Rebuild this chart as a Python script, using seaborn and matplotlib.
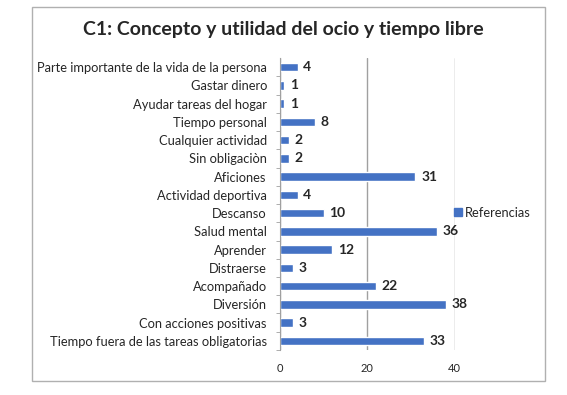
import numpy as np
import pandas as pd
import matplotlib.pyplot as plt
import seaborn as sns
from matplotlib.patches import Rectangle
from matplotlib.lines import Line2D

# datos (de arriba hacia abajo)
categorias = [
    "Parte importante de la vida de la persona",
    "Gastar dinero",
    "Ayudar tareas del hogar",
    "Tiempo personal",
    "Cualquier actividad",
    "Sin obligaciòn",
    "Aficiones",
    "Actividad deportiva",
    "Descanso",
    "Salud mental",
    "Aprender",
    "Distraerse",
    "Acompañado",
    "Diversión",
    "Con acciones positivas",
    "Tiempo fuera de las tareas obligatorias",
]
referencias = [4, 1, 1, 8, 2, 2, 31, 4, 10, 36, 12, 3, 22, 38, 3, 33]
ticks_x = [0, 20, 40]

df = pd.DataFrame({"Categoria": categorias, "Referencias": referencias})

sns.set_style("white")
plt.rcParams['font.family'] = ['Lato', 'DejaVu Sans']

azul = "#4472C4"
fig = plt.figure(figsize=(5.67, 3.95), dpi=100)
ax = fig.add_axes([0.494, 0.114, 0.308, 0.739])

sns.barplot(data=df, y="Categoria", x="Referencias", orient="h",
            color=azul, width=0.47, ax=ax, saturation=1)

ax.set_xlim(0, 40)
ax.set_xticks(ticks_x)
ax.set_ylim(len(categorias) - 0.5, -0.5)
ax.set_xlabel("")
ax.set_ylabel("")
ax.xaxis.grid(True, color="#a0a0a0", linewidth=1.0)
ax.set_axisbelow(True)
for s in ["top", "right", "bottom"]:
    ax.spines[s].set_visible(False)
ax.spines["left"].set_color("#a0a0a0")
ax.tick_params(axis="y", labelsize=9.3, pad=6)
ax.tick_params(axis="x", bottom=False, labelsize=8, pad=6)
ax.set_yticks(np.arange(len(categorias)) + 0.5, minor=True)
ax.tick_params(axis="y", which="minor", left=True, length=3, color="#a0a0a0")
ax.tick_params(axis="y", which="major", left=False)

for i, v in enumerate(referencias):
    ax.text(v + 1.3, i, str(v), va="center", ha="left", fontsize=10, fontweight="bold")

fig.text(0.5, 0.925, "C1: Concepto y utilidad del ocio y tiempo libre",
         ha="center", va="center", fontsize=14, fontweight="bold")

h = Line2D([], [], marker="s", color=azul, linestyle="None", markersize=5.5)
fig.legend([h], ["Referencias"], loc="center left", bbox_to_anchor=(0.775, 0.462),
           frameon=False, fontsize=9.3, handletextpad=0.1, handlelength=1.0)

fig.patches.append(Rectangle((32 / 567, 1 - 381 / 395), (545 - 32) / 567, (381 - 7) / 395,
                             transform=fig.transFigure, fill=False,
                             edgecolor="#b0b0b0", linewidth=1.0))

fig.savefig("out.png", dpi=100)
